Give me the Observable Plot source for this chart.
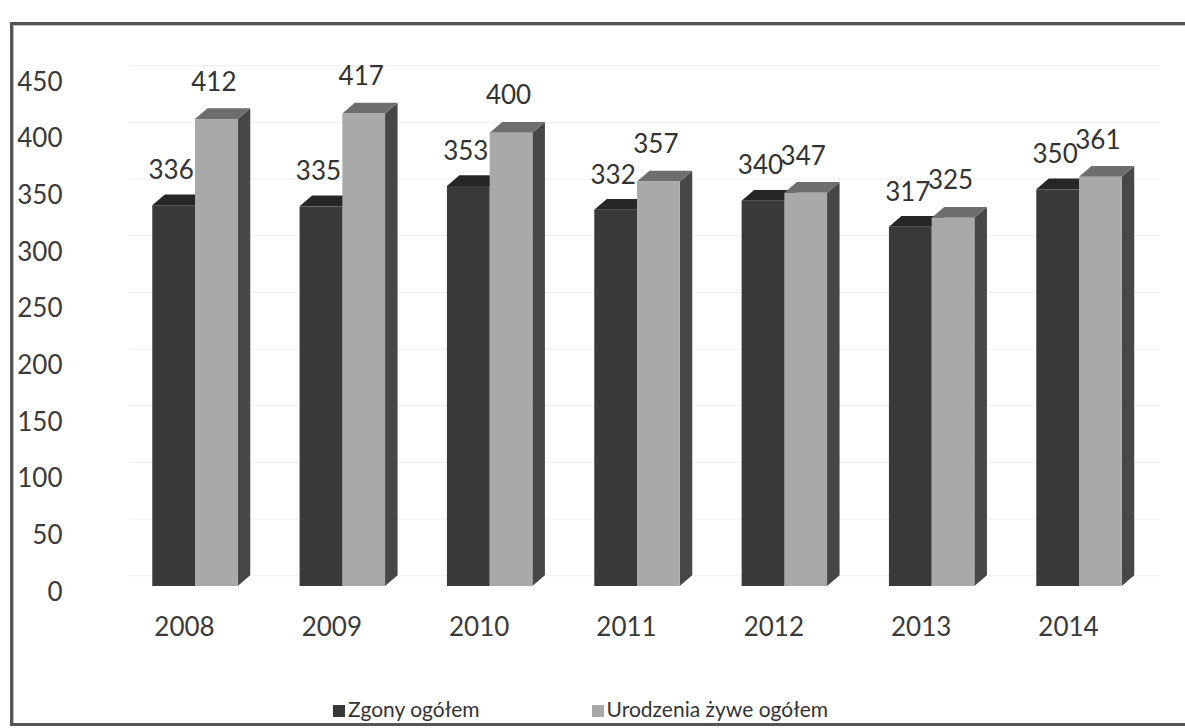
<!DOCTYPE html>
<html>
<head>
<meta charset="utf-8">
<script src="https://cdn.jsdelivr.net/npm/d3@7"></script>
<script src="https://cdn.jsdelivr.net/npm/@observablehq/plot@0.6"></script>
<style>
  html, body { margin: 0; padding: 0; background: #fff; overflow: hidden; width: 1185px; height: 728px; }
  #frame { position: absolute; left: 10px; top: 22px; width: 1200px; height: 698px;
           border: 3px solid #555; box-shadow: inset 1px 1px 0 #bbb; }
  #chart { position: absolute; left: 0; top: 0; }
  #legend { position: absolute; top: 696px; left: 333px; font-family: Lato, sans-serif; font-size: 21px;
            color: #333; display: flex; align-items: center; white-space: nowrap; }
  .sw { display: inline-block; width: 12px; height: 12px; margin-right: 3px; margin-top: 4px; }
</style>
</head>
<body>
<div id="frame"></div>
<div id="chart"></div>
<div id="legend">
  <span class="sw" style="background:#383838"></span><span>Zgony ogółem</span>
  <span style="display:inline-block;width:112px"></span>
  <span class="sw" style="background:#a8a8a8"></span><span>Urodzenia żywe ogółem</span>
</div>
<script>
const years = ["2008", "2009", "2010", "2011", "2012", "2013", "2014"];
const zgony = [336, 335, 353, 332, 340, 317, 350];
const urodzenia = [412, 417, 400, 357, 347, 325, 361];
const yTicks = [0, 50, 100, 150, 200, 250, 300, 350, 400, 450];

const W = 0.29;   // bar width (category units)
const DX = 0.085; // 3D depth, x
const DY = 9.5;   // 3D depth, y (value units)

function bars(values, left) {
  return values.map((v, i) => {
    const x1 = left ? i - W : i;
    return {i, v, x1, x2: x1 + W};
  });
}
const darkBars = bars(zgony, true);
const lightBars = bars(urodzenia, false);

function sides(bs) {
  return bs.flatMap(b => [
    {id: b.i, x: b.x2, y1: 0, y2: b.v},
    {id: b.i, x: b.x2 + DX, y1: DY, y2: b.v + DY}
  ]);
}
function tops(bs) {
  return bs.flatMap(b => [
    {id: b.i, x: b.x1, y1: b.v, y2: b.v},
    {id: b.i, x: b.x1 + DX, y1: b.v, y2: b.v + DY},
    {id: b.i, x: b.x2, y1: b.v, y2: b.v + DY},
    {id: b.i, x: b.x2 + DX, y1: b.v + DY, y2: b.v + DY}
  ]);
}

const chart = Plot.plot({
  width: 1185,
  height: 680,
  marginLeft: 70,
  marginBottom: 90,
  style: {fontFamily: "Lato, sans-serif", fontSize: "26px", color: "#3a3a3a", background: "transparent"},
  x: {domain: [0, 6], range: [195, 1079], axis: null},
  y: {domain: [0, 450], range: [586, 76], axis: null},
  marks: [
    Plot.ruleY(yTicks, {y: d => d + DY, x1: -0.45, x2: 6.55, stroke: "#f0f0f0", strokeWidth: 1}),
    Plot.axisY(yTicks, {anchor: "left", tickSize: 0, tickPadding: 8, dy: 6, label: null, fontSize: 26}),
    Plot.axisX(d3.range(years.length), {anchor: "bottom", tickSize: 0, tickPadding: 27, dx: -11,
      tickFormat: i => years[i], label: null, fontSize: 26}),
    // dark series
    Plot.areaY(sides(darkBars), {x: "x", y1: "y1", y2: "y2", z: "id", fill: "#2f2f2f", curve: "linear"}),
    Plot.areaY(tops(darkBars), {x: "x", y1: "y1", y2: "y2", z: "id", fill: "#262626", curve: "linear"}),
    Plot.rectY(darkBars, {x1: "x1", x2: "x2", y1: 0, y2: "v", fill: "#3a3a3a"}),
    // light series
    Plot.areaY(sides(lightBars), {x: "x", y1: "y1", y2: "y2", z: "id", fill: "#474747", curve: "linear"}),
    Plot.areaY(tops(lightBars), {x: "x", y1: "y1", y2: "y2", z: "id", fill: "#6e6e6e", curve: "linear"}),
    Plot.rectY(lightBars, {x1: "x1", x2: "x2", y1: 0, y2: "v", fill: "#a9a9a9"}),
    // value labels
    Plot.text(darkBars, {x: d => (d.x1 + d.x2) / 2, y: "v", text: d => String(d.v), dy: -35, dx: -3,
      fontSize: 26, fill: "#333"}),
    Plot.text(lightBars, {x: d => (d.x1 + d.x2) / 2, y: "v", text: d => String(d.v), dy: -37, dx: -3,
      fontSize: 26, fill: "#333"})
  ]
});
document.getElementById("chart").appendChild(chart);
</script>
</body>
</html>
